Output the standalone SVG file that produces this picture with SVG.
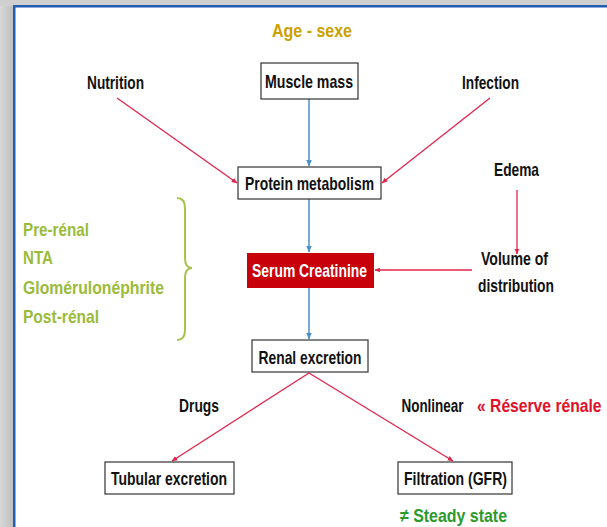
<svg xmlns="http://www.w3.org/2000/svg" width="607" height="527" viewBox="0 0 607 527">
<defs>
<linearGradient id="gl" x1="0" y1="0" x2="1" y2="0"><stop offset="0" stop-color="#d8d8d8"/><stop offset="1" stop-color="#bdbdbd"/></linearGradient>
<marker id="ar" viewBox="0 0 6 6" refX="5.5" refY="3" markerWidth="4.5" markerHeight="4.5" orient="auto"><path d="M0,0.5 L6,3 L0,5.5 Z" fill="#e0244a"/></marker>
<marker id="ab" viewBox="0 0 6 6" refX="5.5" refY="3" markerWidth="4.5" markerHeight="4.5" orient="auto"><path d="M0,0.5 L6,3 L0,5.5 Z" fill="#4a90c8"/></marker>
</defs>
<style>
text{font-family:"Liberation Sans",Arial,sans-serif;font-weight:bold;font-size:19px;fill:#111}
.c{text-anchor:middle}
.box{fill:#fff;stroke:#333;stroke-width:1.2}
.red{stroke:#e0244a;stroke-width:1.3;fill:none}
.blue{stroke:#4a90c8;stroke-width:1.5;fill:none}
.g{fill:#9bbb3b}
</style>
<rect x="0" y="0" width="607" height="527" fill="#fff"/>
<rect x="0" y="0" width="14" height="527" fill="url(#gl)"/>
<rect x="0" y="0" width="607" height="6" fill="#cfcfcf"/>
<rect x="13" y="5" width="2.5" height="522" fill="#1f5fb4"/>
<rect x="13" y="5" width="594" height="2.5" fill="#1f5fb4"/>

<g id="connectors">
<line class="blue" x1="309" y1="99" x2="309" y2="166" marker-end="url(#ab)"/>
<line class="red" x1="117" y1="98" x2="237" y2="183" marker-end="url(#ar)"/>
<line class="red" x1="490" y1="98" x2="382" y2="183" marker-end="url(#ar)"/>
<line class="blue" x1="309" y1="199" x2="309" y2="252" marker-end="url(#ab)"/>
<line class="red" x1="517" y1="190" x2="517" y2="254" marker-end="url(#ar)"/>
<line class="red" x1="472" y1="270" x2="375" y2="270" marker-end="url(#ar)"/>
<line class="blue" x1="309" y1="288" x2="309" y2="339" marker-end="url(#ab)"/>
<line class="red" x1="309" y1="373" x2="172" y2="461" marker-end="url(#ar)"/>
<line class="red" x1="309" y1="373" x2="453" y2="461" marker-end="url(#ar)"/>
</g>

<g id="age"><text class="c" x="312" y="37" textLength="80" lengthAdjust="spacingAndGlyphs" style="fill:#c9a100">Age - sexe</text></g>
<g id="nutrition"><text class="c" x="115.5" y="89" textLength="57" lengthAdjust="spacingAndGlyphs">Nutrition</text></g>
<g id="infection"><text class="c" x="490.5" y="89" textLength="57" lengthAdjust="spacingAndGlyphs">Infection</text></g>
<g id="muscle"><rect class="box" x="261" y="63" width="97" height="36"/><text class="c" x="309" y="88" textLength="88" lengthAdjust="spacingAndGlyphs">Muscle mass</text></g>
<g id="protein"><rect class="box" x="238" y="167" width="143" height="32"/><text class="c" x="309.5" y="190" textLength="129" lengthAdjust="spacingAndGlyphs">Protein metabolism</text></g>
<g id="edema"><text class="c" x="516.5" y="176" textLength="45" lengthAdjust="spacingAndGlyphs">Edema</text></g>
<g id="volume"><text class="c" x="514.5" y="265" textLength="67" lengthAdjust="spacingAndGlyphs">Volume of</text><text class="c" x="516" y="292" textLength="76" lengthAdjust="spacingAndGlyphs">distribution</text></g>
<g id="serum"><rect x="247" y="253" width="127" height="35" fill="#c8000a"/><text class="c" x="309.5" y="277" textLength="115" lengthAdjust="spacingAndGlyphs" style="fill:#fff">Serum Creatinine</text></g>
<g id="causes">
<text x="23" y="236" class="g" textLength="66" lengthAdjust="spacingAndGlyphs">Pre-rénal</text>
<text x="23" y="264" class="g" textLength="30" lengthAdjust="spacingAndGlyphs">NTA</text>
<text x="23" y="294" class="g" textLength="141" lengthAdjust="spacingAndGlyphs">Glomérulonéphrite</text>
<text x="23" y="323" class="g" textLength="76" lengthAdjust="spacingAndGlyphs">Post-rénal</text>
<path d="M177,198 Q185,198 185,208 L185,258 Q185,268 192,268 Q185,268 185,278 L185,330 Q185,340 177,340" fill="none" stroke="#a6c24a" stroke-width="2"/>
</g>
<g id="renal"><rect class="box" x="252" y="340" width="116" height="32"/><text class="c" x="310" y="364" textLength="103" lengthAdjust="spacingAndGlyphs">Renal excretion</text></g>
<g id="drugs"><text class="c" x="199" y="412" textLength="40" lengthAdjust="spacingAndGlyphs">Drugs</text></g>
<g id="nonlinear"><text class="c" transform="translate(432.5,412) scale(0.71,1)" x="0" y="0">Nonlinear</text></g>
<g id="reserve"><text transform="translate(477,412) scale(0.825,1)" x="0" y="0" style="fill:#e0102a">« Réserve rénale</text></g>
<g id="tubular"><rect class="box" x="105" y="462" width="129" height="32"/><text class="c" x="169" y="485" textLength="116" lengthAdjust="spacingAndGlyphs">Tubular excretion</text></g>
<g id="filtration"><rect class="box" x="398" y="462" width="114" height="32"/><text class="c" x="455.5" y="485" textLength="103" lengthAdjust="spacingAndGlyphs">Filtration (GFR)</text></g>
<g id="steady"><text x="400" y="522" textLength="107" lengthAdjust="spacingAndGlyphs" style="fill:#2e9a2e">≠ Steady state</text></g>
</svg>
